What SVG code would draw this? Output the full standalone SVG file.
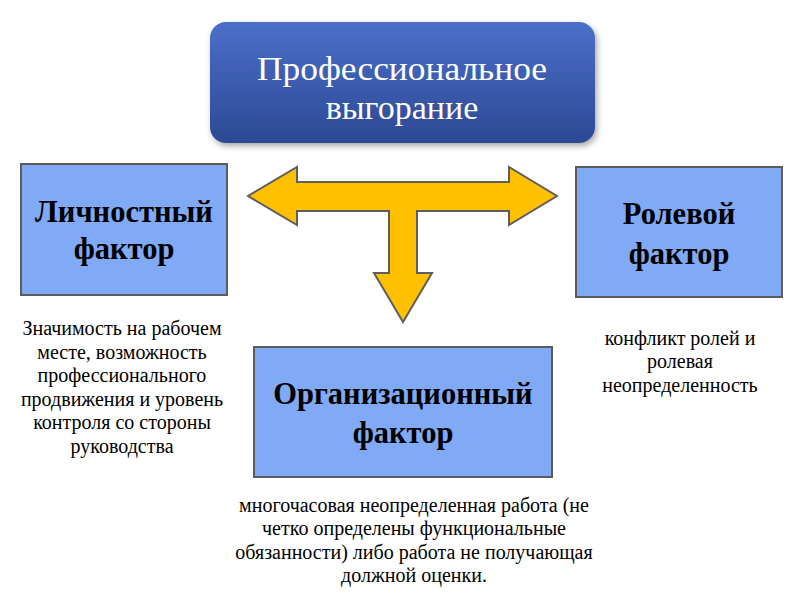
<svg xmlns="http://www.w3.org/2000/svg" width="800" height="600" viewBox="0 0 800 600">
<defs>
<linearGradient id="tg" x1="0" y1="0" x2="0" y2="1">
<stop offset="0" stop-color="#4b70c9"/>
<stop offset="1" stop-color="#2c4894"/>
</linearGradient>
<filter id="sh" x="-10%" y="-10%" width="130%" height="140%">
<feDropShadow dx="2" dy="3" stdDeviation="3" flood-color="#000" flood-opacity="0.35"/>
</filter>
</defs>
<style>
.box{fill:#80a9f6;stroke:#5c5c5c;stroke-width:2}
.bt{font-family:"Liberation Serif","DejaVu Serif",serif;font-weight:bold;font-size:30.5px;fill:#000;text-anchor:middle}
.st{font-family:"Liberation Serif","DejaVu Serif",serif;font-size:20px;fill:#000;text-anchor:middle}
.tt{font-family:"Liberation Serif","DejaVu Serif",serif;font-size:34px;fill:#fff;text-anchor:middle}
</style>
<rect width="800" height="600" fill="#fff"/>
<g id="title">
<rect x="210" y="22" width="385" height="121" rx="16" fill="url(#tg)" filter="url(#sh)"/>
<text class="tt" x="402" y="80" textLength="290" lengthAdjust="spacingAndGlyphs">Профессиональное</text>
<text class="tt" x="402" y="119">выгорание</text>
</g>
<g id="connectors">
<path d="M248,196 L297,167 L297,182 L509,182 L509,167 L557,196 L509,225 L509,211 L417,211 L417,273 L432,273 L403,322 L374,273 L389,273 L389,211 L297,211 L297,225 Z" fill="#ffc000" stroke="#5e5e5e" stroke-width="2" stroke-linejoin="miter"/>
</g>
<g id="personal">
<rect class="box" x="21" y="164" width="206" height="131"/>
<text class="bt" x="124" y="222">Личностный</text>
<text class="bt" x="124" y="259">фактор</text>
</g>
<g id="role">
<rect class="box" x="576" y="167" width="206" height="130"/>
<text class="bt" x="679" y="224">Ролевой</text>
<text class="bt" x="679" y="264">фактор</text>
</g>
<g id="org">
<rect class="box" x="254" y="347" width="298" height="130"/>
<text class="bt" x="403" y="404">Организационный</text>
<text class="bt" x="403" y="443">фактор</text>
</g>
<g id="personal-note">
<text class="st" x="122" y="335">Значимость на рабочем</text>
<text class="st" x="122" y="359">месте, возможность</text>
<text class="st" x="122" y="382">профессионального</text>
<text class="st" x="122" y="406">продвижения и уровень</text>
<text class="st" x="122" y="429">контроля со стороны</text>
<text class="st" x="122" y="453">руководства</text>
</g>
<g id="role-note">
<text class="st" x="680" y="345">конфликт ролей и</text>
<text class="st" x="680" y="368">ролевая</text>
<text class="st" x="680" y="392">неопределенность</text>
</g>
<g id="org-note">
<text class="st" x="414" y="512">многочасовая неопределенная работа (не</text>
<text class="st" x="414" y="535">четко определены функциональные</text>
<text class="st" x="414" y="559">обязанности) либо работа не получающая</text>
<text class="st" x="414" y="582">должной оценки.</text>
</g>
</svg>
